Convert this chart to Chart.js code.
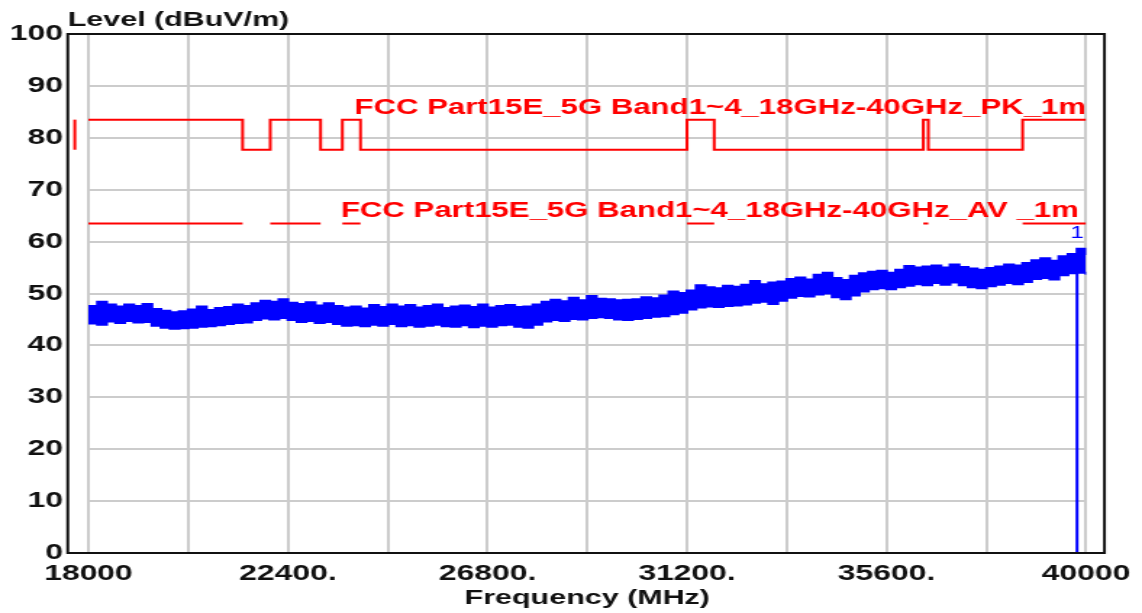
<!DOCTYPE html>
<html>
<head>
<meta charset="utf-8">
<script src="https://cdn.jsdelivr.net/npm/chart.js@4/dist/chart.umd.min.js"></script>
<style>
  html, body { margin: 0; padding: 0; background: #ffffff; }
  #c { display: block; }
</style>
</head>
<body>
<canvas id="c" width="788" height="613" style="width:1142px;height:613px;display:block"></canvas>
<script>
// ---------------- data ----------------
const yTitle = 'Level (dBuV/m)';
const xTitle = 'Frequency (MHz)';
const yTickValues = [0, 10, 20, 30, 40, 50, 60, 70, 80, 90, 100];
const xGridMHz = [18000, 20200, 22400, 24600, 26800, 29000, 31200, 33400, 35600, 37800, 40000];
const xTickLabels = ['18000', '', '22400.', '', '26800.', '', '31200.', '', '35600.', '', '40000'];

// FCC limit lines (1 m)
const pkLabel = 'FCC Part15E_5G Band1~4_18GHz-40GHz_PK_1m';
const avLabel = 'FCC Part15E_5G Band1~4_18GHz-40GHz_AV _1m';
const pkFreqMHz = [18000, 21400, 22010, 23120, 23600, 24000, 31200, 31800, 36410, 36520, 38600, 40000];
const pkLevel   = [83.5, 77.7, 83.5, 77.7, 83.5, 77.7, 83.5, 77.7, 83.5, 77.7, 83.5, 83.5];
const pkEdgeFreqMHz = [17700, 17700];
const pkEdgeLevel   = [77.7, 83.5];
const avStartMHz = [18000, 22010, 23600, 31200, 36410, 38600];
const avEndMHz   = [21400, 23120, 24000, 31800, 36520, 40000];
const avLevel = 63.5;

// measured trace (envelope of the noise band), sweep 18000..40000 MHz, 200 MHz steps
const traceStartMHz = 18000;
const traceStepMHz = 200;
const traceUpper = [
  47.6,48.4,47.9,47.5,47.9,47.6,48.0,47.0,46.7,46.4,
  46.6,46.9,47.5,46.8,47.2,47.4,47.9,47.6,48.1,48.6,
  48.4,48.9,48.2,48.0,48.3,47.7,48.1,47.6,47.3,47.5,
  47.1,47.8,47.4,47.9,47.5,47.8,47.3,47.6,47.9,47.2,
  47.5,47.7,47.4,47.9,47.3,47.6,47.8,47.4,47.5,47.9,
  48.4,48.8,48.5,49.2,48.7,49.5,49.0,48.9,48.7,48.8,
  48.9,49.3,49.1,49.6,50.4,50.1,50.6,51.6,51.2,51.0,
  51.5,51.3,51.7,52.4,51.8,52.1,52.3,52.8,53.1,52.7,
  53.6,54.0,53.0,52.6,53.4,53.9,54.2,54.4,54.0,54.6,
  55.3,55.0,55.2,55.4,55.0,55.6,55.1,54.8,54.6,54.9,
  55.2,55.6,55.4,55.9,56.4,56.8,56.3,57.2,57.6,58.6,57.4
];
const traceLower = [
  44.2,44.0,44.6,44.3,44.7,44.4,44.5,43.8,43.4,43.2,
  43.3,43.4,43.6,43.7,43.9,44.1,44.3,44.4,44.9,45.2,
  45.0,45.3,44.9,44.5,44.7,44.3,44.5,44.1,43.8,43.9,
  43.7,44.0,43.8,44.1,43.7,43.9,43.6,43.8,44.0,43.7,
  43.6,43.9,43.5,43.8,43.6,43.9,44.0,43.6,43.4,44.0,
  44.6,44.9,44.7,45.1,45.0,45.3,45.4,45.3,45.0,44.9,
  45.1,45.3,45.5,45.6,46.0,46.3,46.9,47.3,47.5,47.4,
  47.6,47.7,47.9,48.2,48.4,48.0,48.6,49.2,49.5,49.4,
  49.8,50.0,49.3,48.9,49.6,50.4,50.8,51.0,50.8,51.2,
  51.5,51.8,51.6,52.0,51.7,52.1,51.6,51.2,51.0,51.4,
  51.7,52.0,51.8,52.2,52.8,53.0,52.7,53.5,53.9,54.0,53.6
];

// marker 1
const markerLabel = '1';
const markerFreqMHz = 39800;
const markerLevel = 57.0;

// plot frame extent (instrument screen border)
const frameFreqMHz = [17545, 40405];

// ---------------- build ----------------
const FONT = "'Liberation Sans', Arial, sans-serif";
const pkData = pkFreqMHz.map((f, i) => ({ x: f, y: pkLevel[i] }));
const pkEdgeData = pkEdgeFreqMHz.map((f, i) => ({ x: f, y: pkEdgeLevel[i] }));
const avData = [];
avStartMHz.forEach((s, i) => {
  avData.push({ x: s, y: avLevel }, { x: avEndMHz[i], y: avLevel }, { x: avEndMHz[i], y: null });
});
const upperData = traceUpper.map((v, i) => ({ x: traceStartMHz + i * traceStepMHz, y: v }));
const lowerData = traceLower.map((v, i) => ({ x: traceStartMHz + i * traceStepMHz, y: v }));
const markerData = [{ x: markerFreqMHz, y: 0 }, { x: markerFreqMHz, y: markerLevel }];

const overlay = {
  id: 'overlay',
  afterDraw(chart) {
    const { ctx, chartArea, scales: { x, y } } = chart;
    ctx.save();
    // frame
    const l = x.getPixelForValue(frameFreqMHz[0]);
    const r = x.getPixelForValue(frameFreqMHz[1]);
    const t = y.getPixelForValue(100);
    const b = y.getPixelForValue(0);
    ctx.strokeStyle = '#111111';
    ctx.lineWidth = 2;
    ctx.strokeRect(l, t, r - l, b - t);
    // y title
    ctx.font = 'bold 21px ' + FONT;
    ctx.fillStyle = '#111111';
    ctx.textAlign = 'left';
    ctx.textBaseline = 'alphabetic';
    ctx.fillText(yTitle, l, 26);
    // limit labels
    ctx.font = 'bold 21.5px ' + FONT;
    ctx.fillStyle = '#ff0000';
    ctx.textAlign = 'right';
    ctx.fillText(pkLabel, chartArea.right, y.getPixelForValue(83.5) - 6);
    ctx.fillText(avLabel, chartArea.right - 5, y.getPixelForValue(avLevel) - 6);
    // marker label
    ctx.font = '17px ' + FONT;
    ctx.fillStyle = '#0000ff';
    ctx.textAlign = 'center';
    ctx.textBaseline = 'middle';
    ctx.fillText(markerLabel, x.getPixelForValue(markerFreqMHz), y.getPixelForValue(61.6));
    ctx.restore();
  }
};

const whiteBg = {
  id: 'whiteBg',
  beforeDraw(chart) {
    const { ctx } = chart;
    ctx.save();
    ctx.fillStyle = '#ffffff';
    ctx.fillRect(0, 0, chart.width, chart.height);
    ctx.restore();
  }
};

new Chart(document.getElementById('c'), {
  type: 'line',
  data: {
    datasets: [
      { label: 'Marker', data: markerData, borderColor: '#0000ff', borderWidth: 2, pointRadius: 0, fill: false },
      { label: 'PK limit', data: pkData, stepped: true, borderColor: '#ff0000', borderWidth: 2, pointRadius: 0, fill: false },
      { label: 'AV limit', data: avData, borderColor: '#ff0000', borderWidth: 2, pointRadius: 0, fill: false, spanGaps: false },
      { label: 'PK edge', data: pkEdgeData, borderColor: '#ff0000', borderWidth: 2, pointRadius: 0, fill: false, clip: false },
      { label: 'Trace low', data: lowerData, stepped: true, borderColor: '#0000ff', borderWidth: 2, pointRadius: 0, fill: false },
      { label: 'Trace high', data: upperData, stepped: true, borderColor: '#0000ff', borderWidth: 2, pointRadius: 0, fill: '-1', backgroundColor: '#0000ff' }
    ]
  },
  options: {
    responsive: false,
    devicePixelRatio: 1,
    animation: false,
    events: [],
    layout: { padding: { top: 34, right: 37.3, bottom: 0, left: 0 } },
    plugins: { legend: { display: false }, tooltip: { enabled: false } },
    scales: {
      x: {
        type: 'linear',
        min: 18000,
        max: 40000,
        afterBuildTicks: (s) => { s.ticks = xGridMHz.map(v => ({ value: v })); },
        afterFit: (s) => { s.height = 60; },
        ticks: {
          autoSkip: false, maxRotation: 0, padding: 8,
          color: '#111111',
          font: { family: FONT, size: 22, weight: 'bold' },
          callback: (v, i) => xTickLabels[i]
        },
        grid: { color: '#cccccc', lineWidth: 2, drawTicks: false },
        border: { display: false },
        title: { display: true, text: xTitle, color: '#111111', font: { family: FONT, size: 21, weight: 'bold' }, padding: { top: 0, bottom: 2 } }
      },
      y: {
        type: 'linear',
        min: 0,
        max: 100,
        afterBuildTicks: (s) => { s.ticks = yTickValues.map(v => ({ value: v })); },
        afterFit: (s) => { s.width = 61; },
        ticks: {
          padding: 17.5,
          color: '#111111',
          font: { family: FONT, size: 22, weight: 'bold' },
          callback: (v) => String(v)
        },
        grid: { color: '#cccccc', lineWidth: 2, drawTicks: false },
        border: { display: false }
      }
    }
  },
  plugins: [whiteBg, overlay]
});
</script>
</body>
</html>
